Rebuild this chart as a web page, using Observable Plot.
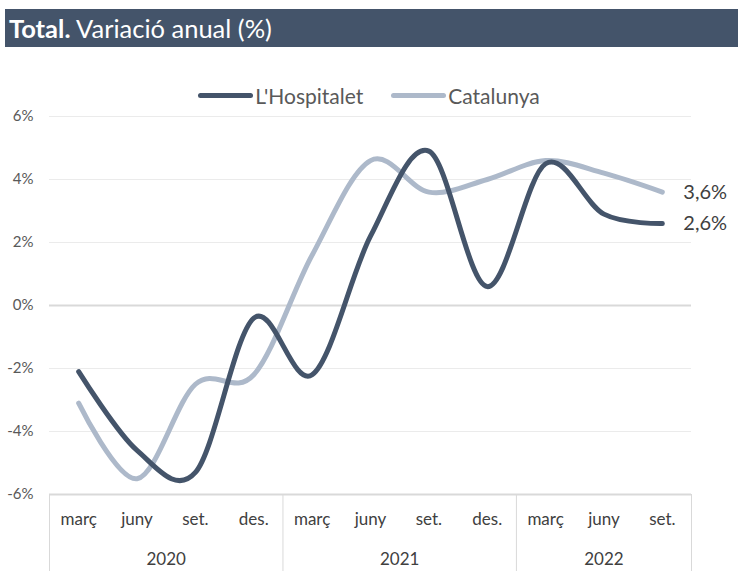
<!DOCTYPE html>
<html><head><meta charset="utf-8">
<script src="https://cdn.jsdelivr.net/npm/d3@7"></script>
<script src="https://cdn.jsdelivr.net/npm/@observablehq/plot@0.6"></script>
<style>
body{margin:0;background:#fff;font-family:Lato,"Open Sans",sans-serif;}
#wrap{position:relative;width:738px;height:571px;}
#title{position:absolute;left:5px;top:9px;width:733px;height:38px;background:#44546A;color:#fff;font-size:25.5px;line-height:38px;padding-left:4px;box-sizing:border-box;}
#legend{position:absolute;top:83px;left:0;width:738px;display:flex;justify-content:center;gap:28px;font-size:21px;color:#595959;}
.li{display:flex;align-items:center;}
.sw{display:inline-block;width:55px;height:5px;border-radius:3px;margin-right:2px;}
#chart{position:absolute;left:0;top:0;}
</style></head>
<body><div id="wrap">
<div id="chart"></div>
<div id="title"><b>Total.</b> Variació anual (%)</div>
<div id="legend"></div>
</div>
<script>
const months = ["març","juny","set.","des.","març","juny","set.","des.","març","juny","set."];
const years = ["2020","2021","2022"];
const yearCounts = [4,4,3];
const seriesNames = ["L'Hospitalet","Catalunya"];
const hospitalet = [-2.1,-4.6,-5.3,-0.4,-2.2,2.2,4.9,0.6,4.5,2.9,2.6];
const catalunya = [-3.1,-5.5,-2.5,-2.2,1.6,4.6,3.6,4.0,4.6,4.2,3.6];
const colors = ["#44546A","#ADB9CA"];
const yTicks = [-6,-4,-2,0,2,4,6];

const rows = [];
[hospitalet, catalunya].forEach((vals, s) => vals.forEach((v, i) => rows.push({i, v, s: seriesNames[s]})));

const bounds = [-0.5];
const centers = [];
yearCounts.forEach(c => { const start = bounds[bounds.length-1]; centers.push(start + c/2); bounds.push(start + c); });

const last = seriesNames.map((n, s) => ({i: months.length-1, v: [hospitalet, catalunya][s][months.length-1], s: n}));

const chart = Plot.plot({
  width: 738, height: 571,
  marginLeft: 49, marginRight: 47, marginTop: 116, marginBottom: 77,
  style: {fontFamily: "Lato, 'Open Sans', sans-serif", background: "transparent"},
  x: {domain: [-0.5, months.length-0.5]},
  y: {domain: [-6, 6]},
  marks: [
    Plot.gridY(yTicks.filter(t => t !== 0 && t !== -6), {stroke: "#EBEBEB", strokeOpacity: 1, strokeWidth: 1}),
    Plot.ruleY([0, -6], {stroke: "#D9D9D9", strokeWidth: 2}),
    Plot.axisY({ticks: yTicks, tickFormat: d => d + "%", tickSize: 0, tickPadding: 16, fontSize: 15, fill: "#595959", label: null}),
    Plot.axisX({ticks: bounds, tickSize: 77, tickFormat: () => "", stroke: "#D9D9D9", label: null}),
    Plot.axisX({ticks: d3.range(months.length), tickFormat: i => months[i], tickSize: 0, tickPadding: 18, fontSize: 17, fill: "#404040", label: null}),
    Plot.axisX({ticks: centers, tickFormat: (d, k) => years[k], tickSize: 0, tickPadding: 58, fontSize: 17, fill: "#404040", label: null}),
    Plot.line(rows.filter(r => r.s === seriesNames[1]), {x: "i", y: "v", stroke: colors[1], strokeWidth: 5, curve: "cardinal", strokeLinecap: "round"}),
    Plot.line(rows.filter(r => r.s === seriesNames[0]), {x: "i", y: "v", stroke: colors[0], strokeWidth: 5, curve: "cardinal", strokeLinecap: "round"}),
    Plot.text(last, {x: "i", y: "v", text: d => d.v.toFixed(1).replace(".", ",") + "%", dx: 21, textAnchor: "start", fontSize: 20, fill: "#404040"})
  ]
});
document.getElementById("chart").appendChild(chart);

const lg = document.getElementById("legend");
seriesNames.forEach((n, s) => {
  const d = document.createElement("div"); d.className = "li";
  const sw = document.createElement("span"); sw.className = "sw"; sw.style.background = colors[s];
  d.appendChild(sw); d.appendChild(document.createTextNode(n)); lg.appendChild(d);
});
</script></body></html>
